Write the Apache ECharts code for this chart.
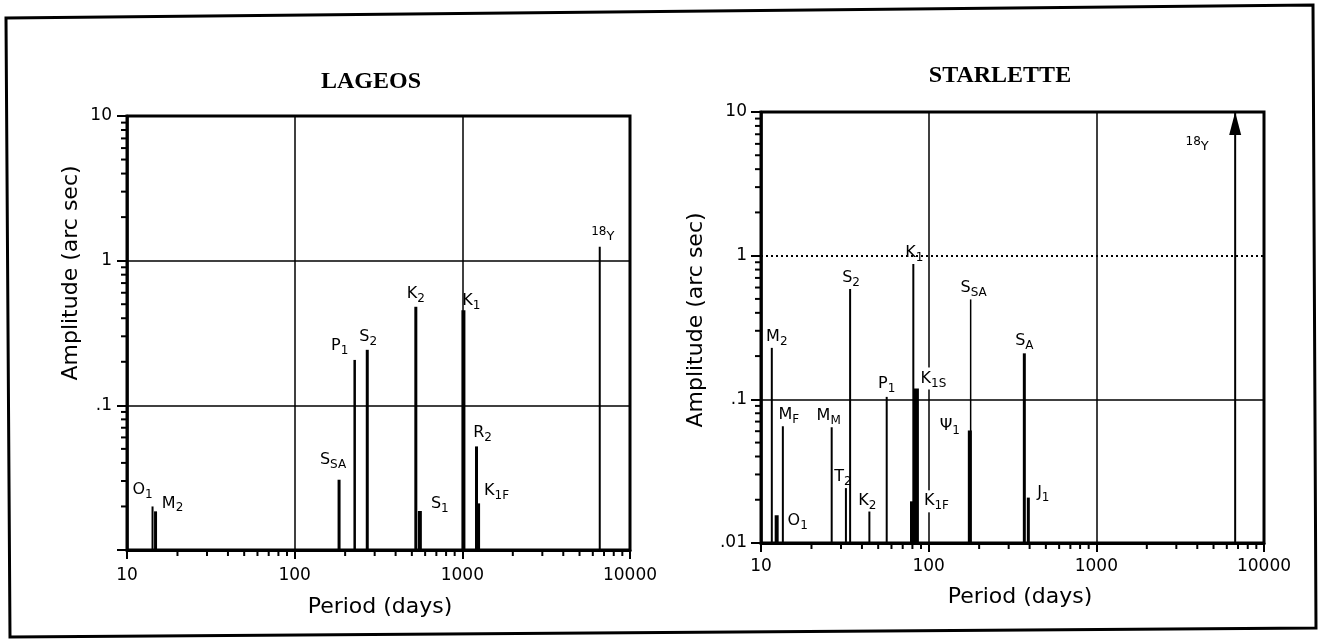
<!DOCTYPE html>
<html><head><meta charset="utf-8">
<script src="https://cdn.jsdelivr.net/npm/echarts@6/dist/echarts.min.js"></script>
<style>html,body{margin:0;padding:0;background:#fff}#c{width:1323px;height:640px}</style>
</head><body><div id="c"></div>
<script>
// ---------------- data ----------------
const periodTicks = [10, 100, 1000, 10000];
const amplitudeTicks = [0.01, 0.1, 1, 10];

const lageosLabels  = ['O_1', 'M_2', 'S_SA', 'P_1', 'S_2', 'K_2', 'S_1', 'K_1', 'R_2', 'K_1F', '18_Y'];
const lageosPeriods = [14.2, 14.8, 184, 228, 271, 528, 558, 1015, 1215, 1250, 6600];
const lageosAmps    = [0.020, 0.0185, 0.0306, 0.206, 0.242, 0.48, 0.0186, 0.455, 0.052, 0.021, 1.25];

const starLabels  = ['M_2', 'O_1', 'M_F', 'M_M', 'T_2', 'S_2', 'K_2', 'P_1', 'K_1', 'K_1S', 'K_1F', 'Ψ_1', 'S_SA', 'S_A', 'J_1', '18_Y'];
const starPeriods = [11.6, 12.4, 13.5, 26.4, 32.1, 34, 44.3, 56.2, 81, 84.5, 79, 176, 178, 372, 393, 6730];
const starAmps    = [0.229, 0.0156, 0.066, 0.066, 0.0257, 0.587, 0.0171, 0.104, 0.875, 0.119, 0.0195, 0.0607, 0.496, 0.209, 0.0207, 10];

// ---------------- styles ----------------
const lageosWidths = [2, 3, 3, 2.5, 3, 3, 4, 4, 3, 3, 2];
const lageosLabelOffsets = [[-10,-17],[17,-8],[-6,-20],[-15,-14],[1,-13],[0,-13],[20,-7],[8,-9],[6,-14],[18,-13],[3,-15]];
const starWidths = [2, 4, 2, 2, 2, 2, 2, 2, 2, 5, 3, 4, 1.5, 3, 3, 2];
const starLabelOffsets = [[5,-11],[21,6],[6,-10],[-3,-9],[-3,-7],[1,-11],[-2,-9],[0,-13],[1,-11],[17,-10],[25,0],[-20,-5],[3,-12],[0,-12],[15,-5],[-38,30]];
const starArrowIndex = 15;

const FONT = 'DejaVu Sans';
const rich = {
  m: {fontSize: 16, fontFamily: FONT, color: '#000'},
  s: {fontSize: 12, fontFamily: FONT, color: '#000', padding: [10, 0, 0, 0]},
  n: {fontSize: 12, fontFamily: FONT, color: '#000'},
  y: {fontSize: 13, fontFamily: FONT, color: '#000', padding: [10, 0, 0, 0]}
};
function richLabel(s) {
  const parts = s.split('_');
  if (parts[0] === '18') return '{n|18}{y|' + parts[1] + '}';
  return '{m|' + parts[0] + '}{s|' + parts[1] + '}';
}

function minorTicks(api) {
  const ch = [];
  const xMin = periodTicks[0], yMin = amplitudeTicks[0];
  for (let k = 0; k < periodTicks.length - 1; k++) {
    for (let m = 2; m <= 9; m++) {
      const p = api.coord([periodTicks[k] * m, yMin]);
      ch.push({type: 'line', shape: {x1: p[0], y1: p[1], x2: p[0], y2: p[1] + 6}, style: {stroke: '#000', lineWidth: 2}});
    }
  }
  for (let k = 0; k < amplitudeTicks.length - 1; k++) {
    for (let m = 2; m <= 9; m++) {
      const p = api.coord([xMin, amplitudeTicks[k] * m]);
      ch.push({type: 'line', shape: {x1: p[0] - 6, y1: p[1], x2: p[0], y2: p[1]}, style: {stroke: '#000', lineWidth: 2}});
    }
  }
  return ch;
}

function stickRenderer(labels, widths, offsets, bg, arrowIdx) {
  return function (params, api) {
    const i = params.dataIndex;
    const top = api.coord([api.value(0), api.value(1)]);
    const base = api.coord([api.value(0), amplitudeTicks[0]]);
    const children = [{
      type: 'line',
      shape: {x1: top[0], y1: top[1], x2: base[0], y2: base[1]},
      style: {stroke: '#000', lineWidth: widths[i]}
    }];
    if (i === arrowIdx) {
      children.push({type: 'polygon',
        shape: {points: [[top[0], top[1]], [top[0] - 6, top[1] + 23], [top[0] + 6, top[1] + 23]]},
        style: {fill: '#000'}});
    }
    const o = offsets[i];
    children.push({
      type: 'text', x: top[0] + o[0], y: top[1] + o[1],
      style: {text: richLabel(labels[i]), rich: rich, align: 'center', verticalAlign: 'middle',
              backgroundColor: bg ? '#fff' : 'transparent'}
    });
    if (i === 0) Array.prototype.push.apply(children, minorTicks(api));
    return {type: 'group', children: children};
  };
}

function fmtPeriod(v) { return String(Math.round(v)); }
function fmtAmp(hideMin) {
  return function (v) {
    const e = Math.round(Math.log10(v));
    if (hideMin && e === -2) return '';
    return e >= 0 ? String(Math.pow(10, e)) : '.' + '0'.repeat(-e - 1) + '1';
  };
}

function xAxisCfg(gi, margin) {
  return {
    gridIndex: gi, type: 'log', logBase: 10, min: periodTicks[0], max: periodTicks[periodTicks.length - 1],
    axisLine: {lineStyle: {color: '#000', width: 3}},
    axisTick: {length: 9, lineStyle: {color: '#000', width: 2}},
    axisLabel: {formatter: fmtPeriod, fontSize: 17, fontFamily: FONT, color: '#000', margin: margin},
    splitLine: {show: true, lineStyle: {color: '#000', width: 1.5}}
  };
}
function yAxisCfg(gi, hideMin, split, margin) {
  return {
    gridIndex: gi, type: 'log', logBase: 10, min: amplitudeTicks[0], max: amplitudeTicks[amplitudeTicks.length - 1],
    axisLine: {lineStyle: {color: '#000', width: 2.5}},
    axisTick: {length: 10, lineStyle: {color: '#000', width: 2}},
    axisLabel: {formatter: fmtAmp(hideMin), fontSize: 17, fontFamily: FONT, color: '#000', margin: margin},
    splitLine: {show: split, lineStyle: {color: '#000', width: 1.5}}
  };
}

const chart = echarts.init(document.getElementById('c'), null, {renderer: 'canvas'});
chart.setOption({
  animation: false,
  backgroundColor: '#fff',
  grid: [
    {left: 127, top: 116, width: 503, height: 434, show: true, borderColor: '#000', borderWidth: 3, backgroundColor: 'transparent'},
    {left: 761, top: 112, width: 503, height: 431, show: true, borderColor: '#000', borderWidth: 3, backgroundColor: 'transparent'}
  ],
  xAxis: [xAxisCfg(0, 17), xAxisCfg(1, 15)],
  yAxis: [yAxisCfg(0, true, true, 15), yAxisCfg(1, false, false, 14)],
  series: [
    {type: 'custom', xAxisIndex: 1, yAxisIndex: 1, z: 1, data: [], renderItem: function () { return null; }, silent: true,
      markLine: {silent: true, symbol: ['none', 'none'], label: {show: false}, animation: false,
        data: [
          {yAxis: amplitudeTicks[2], lineStyle: {color: '#000', width: 2, type: [2, 3]}},
          {yAxis: amplitudeTicks[1], lineStyle: {color: '#000', width: 1.5, type: 'solid'}}
        ]}},
    {type: 'custom', name: 'LAGEOS', xAxisIndex: 0, yAxisIndex: 0, z: 3, clip: false,
      data: lageosPeriods.map((p, i) => [p, lageosAmps[i]]),
      renderItem: stickRenderer(lageosLabels, lageosWidths, lageosLabelOffsets, false, -1)},
    {type: 'custom', name: 'STARLETTE', xAxisIndex: 1, yAxisIndex: 1, z: 3, clip: false,
      data: starPeriods.map((p, i) => [p, starAmps[i]]),
      renderItem: stickRenderer(starLabels, starWidths, starLabelOffsets, true, starArrowIndex)}
  ],
  graphic: [
    {type: 'polygon', shape: {points: [[6, 18], [1313, 5], [1316, 628], [10, 637]]}, style: {fill: null, stroke: '#000', lineWidth: 3}},
    {type: 'text', x: 371, y: 82, style: {text: 'LAGEOS', font: 'bold 24px "Liberation Serif"', fill: '#000', align: 'center', verticalAlign: 'middle'}},
    {type: 'text', x: 1000, y: 76, style: {text: 'STARLETTE', font: 'bold 24px "Liberation Serif"', fill: '#000', align: 'center', verticalAlign: 'middle'}},
    {type: 'text', x: 71, y: 273, rotation: Math.PI / 2, style: {text: 'Amplitude (arc sec)', font: '22px "DejaVu Sans"', fill: '#000', align: 'center', verticalAlign: 'middle'}},
    {type: 'text', x: 696, y: 320, rotation: Math.PI / 2, style: {text: 'Amplitude (arc sec)', font: '22px "DejaVu Sans"', fill: '#000', align: 'center', verticalAlign: 'middle'}},
    {type: 'text', x: 380, y: 607, style: {text: 'Period (days)', font: '22px "DejaVu Sans"', fill: '#000', align: 'center', verticalAlign: 'middle'}},
    {type: 'text', x: 1020, y: 597, style: {text: 'Period (days)', font: '22px "DejaVu Sans"', fill: '#000', align: 'center', verticalAlign: 'middle'}}
  ]
});
</script></body></html>
